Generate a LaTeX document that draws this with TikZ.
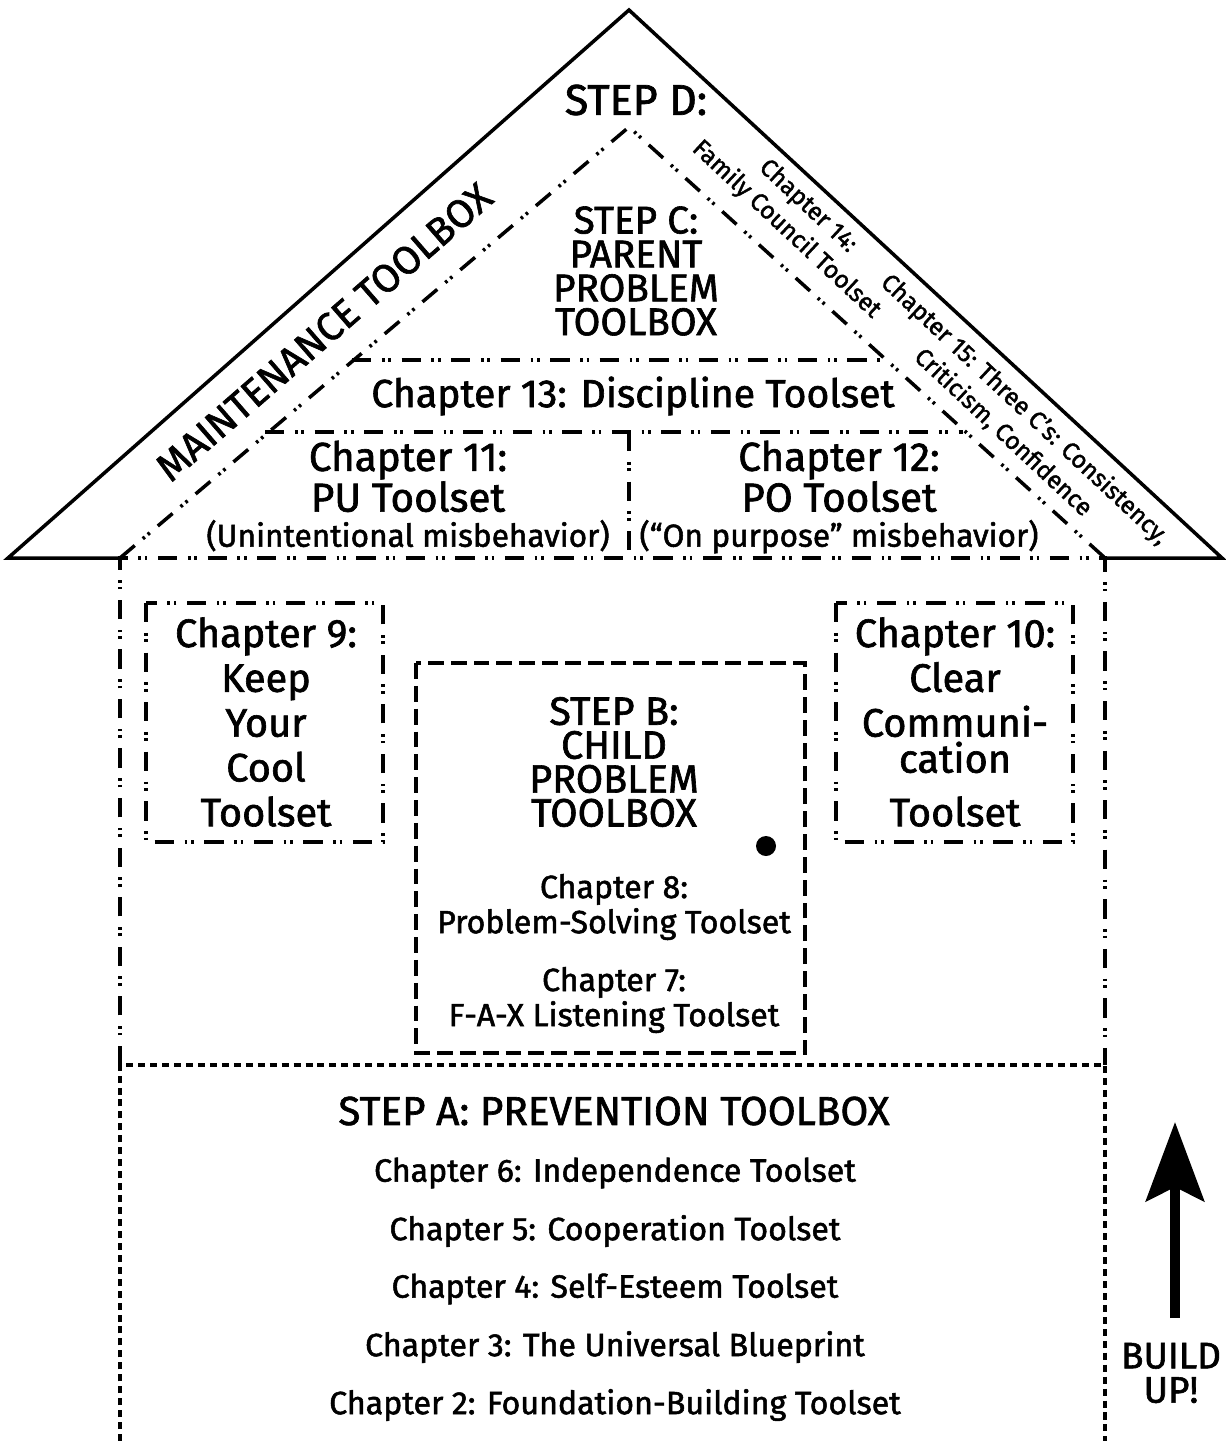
\documentclass[tikz,border=0pt]{standalone}
\usepackage{fontspec}
\setmainfont{Fira Sans}[FakeBold=1.6]
\usetikzlibrary{arrows.meta}

\begin{document}
\begin{tikzpicture}[x=0.02cm, y=-0.02cm,
    roof/.style={line width=2pt, line join=miter},
    dashdotdot/.style={line width=2pt, dash pattern=on 11pt off 6pt on 1.5pt off 2.2pt on 1.5pt off 6pt},
    boxdash/.style={line width=2pt, dash pattern=on 9pt off 4pt},
    footdash/.style={line width=2pt, dash pattern=on 4pt off 2.8pt},
    txt/.style={align=center, inner sep=0pt},
    big/.style={txt, font=\fontsize{22}{19.3}\selectfont},
    mid/.style={txt, font=\fontsize{22.6}{25.5}\selectfont},
    chap/.style={txt, font=\fontsize{18.3}{20}\selectfont},
    slant/.style={txt, font=\fontsize{14}{18}\selectfont, rotate=-43}]
\useasboundingbox (0,0) rectangle (1225,1441);

% roof
\draw[roof] (120,558) -- (8,558) -- (629,10) -- (1222,558) -- (1105,558);
\draw[dashdotdot] (120,558) -- (629,127) -- (1105,558);
\draw[dashdotdot] (352,360) -- (880,360);
\draw[dashdotdot] (265,432) -- (963,432);
\draw[dashdotdot] (629,432) -- (629,558);

% house
\draw[dashdotdot] (120,1065) -- (120,558) -- (1105,558) -- (1105,1065);
\draw[dashdotdot] (146,603) rectangle (383,842);
\draw[dashdotdot] (836,603) rectangle (1073,842);
\draw[boxdash] (416,663) rectangle (805,1053);
\node[circle, fill, inner sep=0pt, minimum size=0.4cm] (knob) at (766,846) {};

% foundation
\draw[footdash] (120,1441) -- (120,1065) -- (1105,1065) -- (1105,1441);

% texts
\node[txt, font=\fontsize{24.5}{20}\selectfont] (stepD) at (636,100) {STEP D:};
\node[big] (stepC) at (636,271) {STEP C:\\PARENT\\PROBLEM\\TOOLBOX};
\node[txt, font=\fontsize{22.5}{20}\selectfont, rotate=41] (maint) at (324,332) {MAINTENANCE TOOLBOX};
\node[slant] (ch14) at (797,218) {Chapter 14:\\Family Council Toolset};
\node[slant] (ch15) at (1014,421) {Chapter 15: Three C's: Consistency,\\Criticism, Confidence};
\node[txt, font=\fontsize{22.3}{20}\selectfont] (ch13) at (633,396) {Chapter 13: Discipline Toolset};
\node[txt, font=\fontsize{23}{20}\selectfont] (ch11) at (408,496)
  {Chapter 11:\\PU Toolset\\{\fontsize{18}{20}\selectfont(Unintentional misbehavior)}};
\node[txt, font=\fontsize{23}{20}\selectfont] (ch12) at (839,497)
  {Chapter 12:\\PO Toolset\\{\fontsize{18}{20}\selectfont(“On purpose” misbehavior)}};

\node[mid] (ch9) at (266,722) {Chapter 9:\\Keep\\Your\\Cool\\Toolset};
\node[mid] (ch10) at (955,722) {Chapter 10:\\Clear\\Communi-\\[-5pt]cation\\[5pt]Toolset};

\node[txt, font=\fontsize{22.5}{19.3}\selectfont] (stepB) at (614,762) {STEP B:\\CHILD\\PROBLEM\\TOOLBOX};
\node[chap] (ch8) at (614,907) {Chapter 8:\\Problem-Solving Toolset};
\node[chap] (ch7) at (614,1000) {Chapter 7:\\F-A-X Listening Toolset};

\node[txt, font=\fontsize{23}{25}\selectfont] (stepA) at (614,1111) {STEP A: PREVENTION TOOLBOX};
\node[chap] (ch6) at (615,1173) {Chapter 6: Independence Toolset};
\node[chap] (ch5) at (615,1231) {Chapter 5: Cooperation Toolset};
\node[chap] (ch4) at (615,1289) {Chapter 4: Self-Esteem Toolset};
\node[chap] (ch3) at (615,1347) {Chapter 3: The Universal Blueprint};
\node[chap] (ch2) at (615,1405) {Chapter 2: Foundation-Building Toolset};

% build up arrow
\coordinate (upfoot) at (1175,1318);
\coordinate (uptip) at (1175,1122);
\draw[line width=5.7pt, -{Stealth[length=45pt, width=33pt, inset=8pt]}] (upfoot) -- (uptip);
\node[txt, font=\fontsize{21}{19.5}\selectfont] (build) at (1171,1373) {BUILD\\UP!};
\end{tikzpicture}
\end{document}
